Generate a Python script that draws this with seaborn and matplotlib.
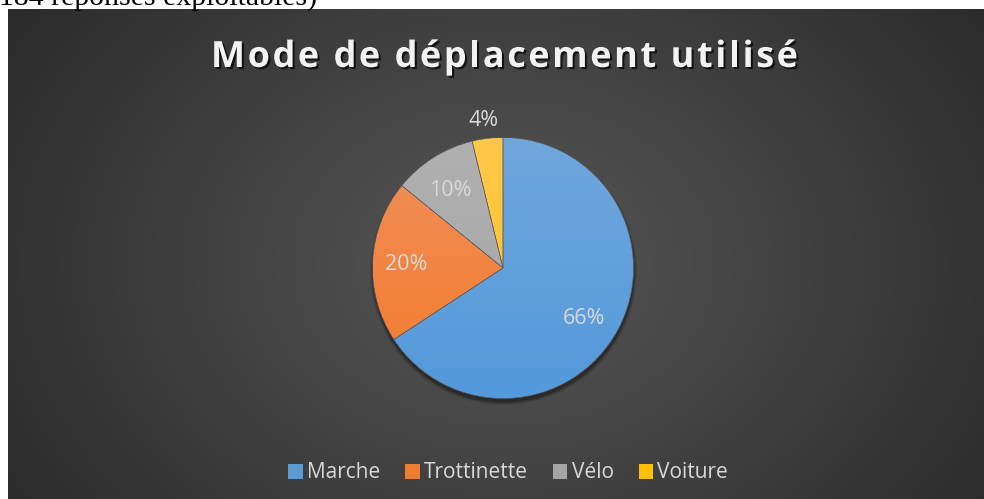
import numpy as np
import matplotlib
matplotlib.use("Agg")
import matplotlib.pyplot as plt
import matplotlib.patheffects as pe
from matplotlib.colors import to_rgb
import seaborn as sns

# ---- data ----
categories = ["Marche", "Trottinette", "Vélo", "Voiture"]
counts = [121, 37, 19, 7]
pct_labels = ["66%", "20%", "10%", "4%"]
title = "Mode de déplacement utilisé"
note = "(184 réponses exploitables)"

sns.set_theme(style="white")
plt.rcParams['font.family'] = ['Open Sans', 'DejaVu Sans']

base_cols = sns.color_palette(["#5B9BD5", "#ED7D31", "#A5A5A5", "#FFC000"])
top_cols = ["#70a7dd", "#f0905c", "#b0b0b0", "#ffc84a"]
bot_cols = ["#5399db", "#f47a2a", "#a6a6a6", "#ffc320"]

W, H = 984, 499
fig = plt.figure(figsize=(W / 100, H / 100), dpi=100)
fig.patch.set_facecolor("white")

# background panel with radial gradient
x0, ytop = 8, 9
bg = fig.add_axes([x0 / W, 0, (W - x0) / W, (H - ytop) / H])
bg.set_axis_off()
ny, nx = 245, 488
yy, xx = np.mgrid[0:ny, 0:nx]
cx, cy = (503 - x0) / (W - x0) * nx, (262 - ytop) / (H - ytop) * ny
r = np.sqrt(((xx - cx) / (nx * 0.62)) ** 2 + ((yy - cy) / (ny * 0.95)) ** 2)
r = np.clip(r, 0, 1)
c_in = np.array([0x57, 0x57, 0x57]) / 255
c_out = np.array([0x2a, 0x2a, 0x2a]) / 255
img = c_in[None, None, :] * (1 - r[..., None]) + c_out[None, None, :] * r[..., None]
bg.imshow(img, aspect="auto", extent=[0, 1, 0, 1], interpolation="bilinear")
bg.set_xlim(0, 1)
bg.set_ylim(0, 1)

# main axes in pixel coords (y up)
ax = fig.add_axes([0, 0, 1, 1])
ax.set_axis_off()
ax.patch.set_alpha(0)

pcx, pcy, R = 503, H - 268, 130.5

# shadow
for i, a in enumerate([0.10, 0.14, 0.2, 0.3]):
    sh = plt.Circle((pcx + 0.5, pcy - 3.5), R + 3 - i * 0.9, color="#151515", alpha=a, lw=0)
    ax.add_patch(sh)

wedges, _ = ax.pie(counts, startangle=90, counterclock=False, center=(pcx, pcy),
                   radius=R, colors=base_cols,
                   wedgeprops=dict(edgecolor="#5a5a5a", linewidth=0.4))
ax.set_xlim(0, W)
ax.set_ylim(0, H)
ax.set_aspect("auto")

# gradient fill per wedge
for w, tc, bc in zip(wedges, top_cols, bot_cols):
    t = np.linspace(0, 1, 256)[:, None]
    g = np.array(to_rgb(tc))[None, None, :] * (1 - t[..., None]) + np.array(to_rgb(bc))[None, None, :] * t[..., None]
    g = np.repeat(g, 2, axis=1)
    im = ax.imshow(g, extent=[pcx - R, pcx + R, pcy - R, pcy + R], aspect="auto",
                   interpolation="bilinear", zorder=w.get_zorder() + 0.1, origin="upper")
    im.set_clip_path(w)
    w.set_facecolor("none")
    w.set_zorder(w.get_zorder() + 0.2)
ax.set_xlim(0, W)
ax.set_ylim(0, H)

# percent labels
lab_pos = [(584, 318), (406, 264), (450, 190), (484, 120)]
for (lx, ly), txt in zip(lab_pos, pct_labels):
    ax.text(lx, H - ly, txt, ha="center", va="center", color="#d9d9d9", fontsize=15.5, zorder=10)

# title with letter spacing
renderer = fig.canvas.get_renderer()
tprops = dict(color="#f2f2f2", fontsize=26, fontweight="bold", zorder=10)
def tw(s):
    t = ax.text(0, 0, s, **{k: v for k, v in tprops.items() if k != "zorder"})
    w_ = t.get_window_extent(renderer).width
    t.remove()
    return w_
space_w = tw("a a") - tw("aa")
widths = [space_w if ch == " " else tw(ch) for ch in title]
t_left, t_right = 211, 798
spacing = (t_right - t_left - sum(widths)) / (len(title) - 1)
xpos = t_left
for ch, wch in zip(title, widths):
    if ch != " ":
        ax.text(xpos, H - 58, ch, ha="left", va="center", **tprops,
                path_effects=[pe.withSimplePatchShadow(offset=(1.5, -1.5), shadow_rgbFace="black", alpha=0.7)])
    xpos += wch + spacing

# cut-off note at top
ax.text(-11, H - 5, note, ha="left", va="baseline", color="black", fontsize=21.5,
        family="Liberation Serif", zorder=10)

# legend
handles = [plt.Rectangle((0, 0), 1, 1, fc=c, ec="none") for c in base_cols]
leg = fig.legend(handles, categories, loc="center", bbox_to_anchor=(508 / W, 1 - 473 / H),
                 ncol=4, frameon=False, fontsize=15, handlelength=0.7, handleheight=0.7,
                 handletextpad=0.2, columnspacing=1.2, labelcolor="#d9d9d9")

fig.savefig("out.png", dpi=100, facecolor="white")
